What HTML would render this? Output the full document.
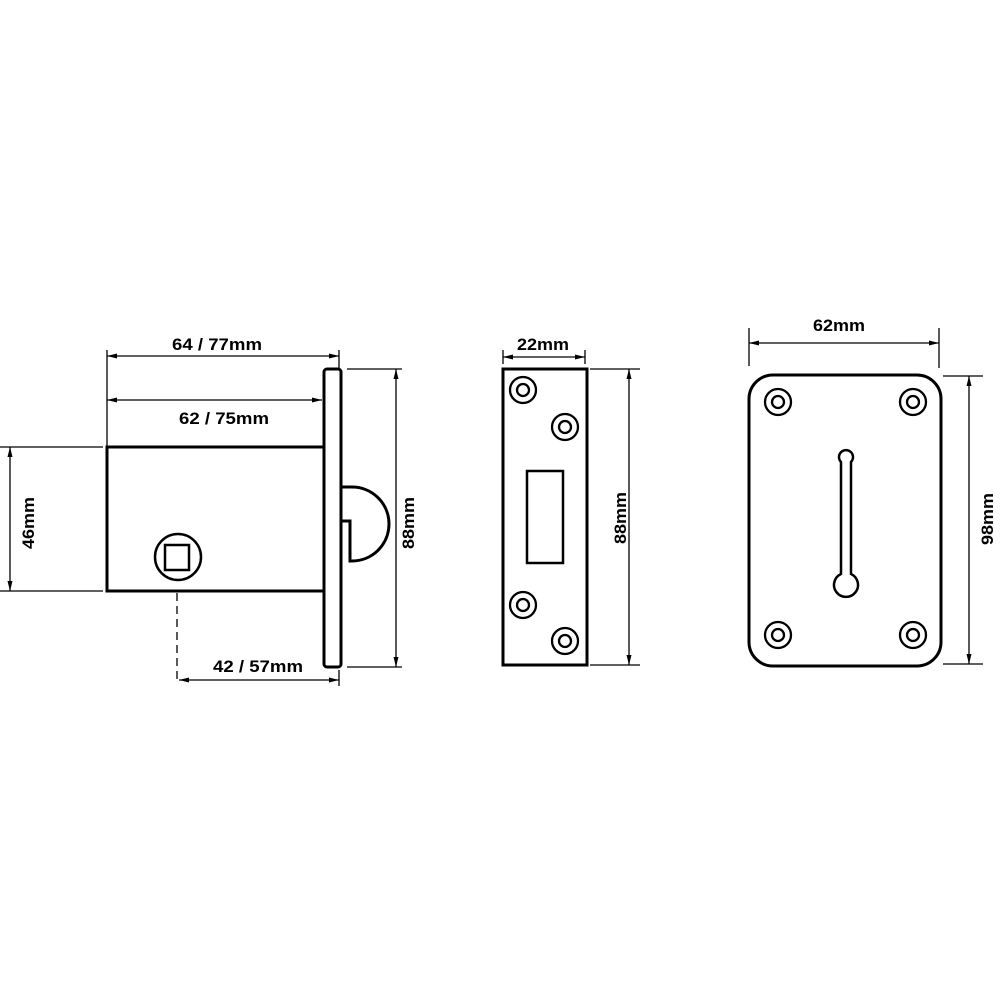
<!DOCTYPE html>
<html><head><meta charset="utf-8"><style>html,body{margin:0;padding:0;background:#fff}svg{display:block}</style></head>
<body>
<svg width="1000" height="1000" viewBox="0 0 1000 1000" xmlns="http://www.w3.org/2000/svg">
<defs>
<marker id="a" viewBox="0 0 10 6" refX="10" refY="3" markerWidth="10" markerHeight="6" orient="auto-start-reverse" markerUnits="userSpaceOnUse"><path d="M10,3 L0,0.5 L0,5.5 Z" fill="#000"/></marker>
</defs>
<g fill="none" stroke="#000" stroke-width="1.3">
<line x1="107" y1="350" x2="107" y2="447"/>
<line x1="339" y1="350" x2="339" y2="368"/>
<line x1="0" y1="447" x2="103" y2="447"/>
<line x1="0" y1="591" x2="103" y2="591"/>
<line x1="347" y1="369" x2="402" y2="369"/>
<line x1="347" y1="667" x2="402" y2="667"/>
<line x1="339" y1="670" x2="339" y2="686"/>
<line x1="177" y1="593" x2="177" y2="680" stroke-dasharray="8,5"/>
<line x1="107" y1="356" x2="339" y2="356" marker-start="url(#a)" marker-end="url(#a)"/>
<line x1="107" y1="400" x2="322" y2="400" marker-start="url(#a)" marker-end="url(#a)"/>
<line x1="10" y1="447" x2="10" y2="591" marker-start="url(#a)" marker-end="url(#a)"/>
<line x1="396" y1="369" x2="396" y2="667" marker-start="url(#a)" marker-end="url(#a)"/>
<line x1="179" y1="680" x2="339" y2="680" marker-start="url(#a)" marker-end="url(#a)"/>
<line x1="503" y1="357" x2="585" y2="357" marker-start="url(#a)" marker-end="url(#a)"/>
<line x1="503" y1="350" x2="503" y2="364"/>
<line x1="585" y1="350" x2="585" y2="364"/>
<line x1="590" y1="369" x2="640" y2="369"/>
<line x1="590" y1="665" x2="640" y2="665"/>
<line x1="629" y1="369" x2="629" y2="665" marker-start="url(#a)" marker-end="url(#a)"/>
<line x1="749" y1="328" x2="749" y2="366"/>
<line x1="939" y1="328" x2="939" y2="368"/>
<line x1="749" y1="343" x2="939" y2="343" marker-start="url(#a)" marker-end="url(#a)"/>
<line x1="943" y1="376" x2="983" y2="376"/>
<line x1="943" y1="664" x2="983" y2="664"/>
<line x1="969" y1="376" x2="969" y2="664" marker-start="url(#a)" marker-end="url(#a)"/>
</g>
<g fill="none" stroke="#000" stroke-width="3">
<rect x="107" y="447" width="217" height="144"/>
<rect x="324" y="369" width="17" height="298" rx="3"/>
<path d="M341,487 H352 A37,37 0 0 1 352,561 H350 V521 H341"/>
<circle cx="178" cy="557" r="23" stroke-width="2.5"/>
<rect x="165" y="545" width="24" height="25" stroke-width="2.5"/>
<rect x="503" y="369" width="84" height="296"/>
<rect x="527" y="471" width="36" height="92" stroke-width="2.5"/>
<rect x="749" y="375" width="192" height="291" rx="24"/>
<path d="M841,462 A7,7 0 1 1 851,462 V574 A12,12 0 1 1 841,574 Z" stroke-width="2.5"/>
</g>
<g fill="none" stroke="#000" stroke-width="2.3">
<circle cx="523" cy="390" r="13"/><circle cx="523" cy="390" r="6"/>
<circle cx="565" cy="427" r="13"/><circle cx="565" cy="427" r="6"/>
<circle cx="523" cy="605" r="13"/><circle cx="523" cy="605" r="6"/>
<circle cx="565" cy="641" r="13"/><circle cx="565" cy="641" r="6"/>
<circle cx="778" cy="402" r="13"/><circle cx="778" cy="402" r="6"/>
<circle cx="913" cy="402" r="13"/><circle cx="913" cy="402" r="6"/>
<circle cx="778" cy="635" r="13"/><circle cx="778" cy="635" r="6"/>
<circle cx="913" cy="635" r="13"/><circle cx="913" cy="635" r="6"/>
</g>
<g font-family="'Liberation Sans Narrow','Liberation Sans',sans-serif" font-weight="bold" font-size="17" fill="#000" text-anchor="middle">
<text x="217" y="350" textLength="90" lengthAdjust="spacingAndGlyphs">64 / 77mm</text>
<text x="224" y="424" textLength="90" lengthAdjust="spacingAndGlyphs">62 / 75mm</text>
<text x="258" y="672" textLength="90" lengthAdjust="spacingAndGlyphs">42 / 57mm</text>
<text x="543" y="350" textLength="52" lengthAdjust="spacingAndGlyphs">22mm</text>
<text x="839" y="331" textLength="52" lengthAdjust="spacingAndGlyphs">62mm</text>
<text transform="translate(34,523) rotate(-90)" textLength="52" lengthAdjust="spacingAndGlyphs">46mm</text>
<text transform="translate(414,523) rotate(-90)" textLength="52" lengthAdjust="spacingAndGlyphs">88mm</text>
<text transform="translate(626,518) rotate(-90)" textLength="52" lengthAdjust="spacingAndGlyphs">88mm</text>
<text transform="translate(993,519) rotate(-90)" textLength="52" lengthAdjust="spacingAndGlyphs">98mm</text>
</g>
</svg>
</body></html>
